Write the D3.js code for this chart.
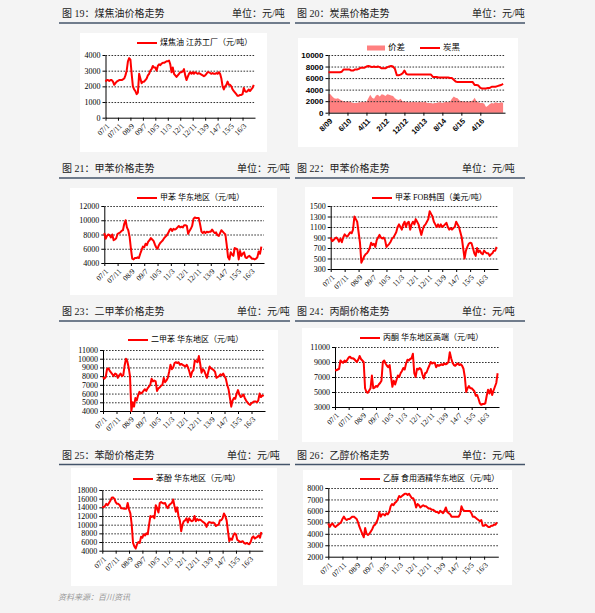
<!DOCTYPE html>
<html><head><meta charset="utf-8">
<script src="https://cdn.jsdelivr.net/npm/d3@7"></script>
<style>body{margin:0;background:#f4f4f4} svg{display:block}</style>
</head><body><svg id="c" width="595" height="613"></svg>
<script>
// ---------- tick labels ----------
const labels07 = ["07/1","07/11","08/9","09/7","10/5","11/3","12/1","12/11","13/9","14/7","15/5","16/3"];
const labels09 = ["8/09","6/10","4/11","2/12","12/12","10/13","8/14","6/15","4/16"];

// ---------- series (approx. monthly readings) ----------
const coalTar = [2300,2400,2400,2350,2400,2400,2300,2100,2200,2300,
 2350,2400,2400,2400,2450,2500,2700,3000,3600,3800,
 3700,2800,2000,1800,1700,1500,1600,2800,2500,2200,
 2300,2300,2400,2500,2700,2800,3000,3100,3300,3200,
 3200,3000,3300,3400,3350,3450,3500,3500,3550,3600,
 3600,3650,3400,2900,3200,2800,2700,2600,2700,2800,
 2900,2900,2950,3100,2700,2400,2600,2800,2900,2800,
 2900,2800,2900,2850,2800,2850,2800,2750,2700,2650,
 2700,2800,2900,2900,2850,2800,2850,2800,2800,2850,
 2800,2900,2800,2500,2000,1800,2000,2100,2300,2100,
 2100,2000,1800,1700,1600,1500,1400,1400,1450,1450,
 1500,1900,1700,1650,1700,1800,1700,1800,1900,2100];

const carbonBlack = [7000,7000,7000,7000,7000,7000,7000,7100,7500,7500,
 7500,7500,7300,7300,7500,7500,7600,7800,7800,7800,
 8000,8100,8000,7900,8000,7900,8000,7900,7700,7700,
 7700,7900,8000,8100,8000,7600,6500,6500,6600,6800,
 7300,6700,6600,6600,6600,6600,6600,6600,6600,6600,
 6600,6600,6600,6600,6600,6200,6200,6200,6100,6100,
 6100,6100,6100,6100,6000,6000,5700,5400,5300,5300,
 5300,5300,5300,5300,5300,5300,5300,4800,4800,4700,
 4300,4200,4200,4200,4300,4300,4500,4500,4500,4600,
 4700,4800,5000];

const carbonSpread = [3300,3200,2800,2500,2400,2500,2300,2100,2000,1900,
 2000,1900,1800,1700,1700,1700,1800,1800,1900,1800,
 1900,2500,3100,2600,2400,3000,3100,2800,3200,3100,
 2900,3200,3100,3000,2900,2500,2300,2200,2400,2000,
 1900,1900,1800,1900,1800,1900,1800,1800,1900,1800,
 1800,1900,1700,1700,1700,1600,1700,1700,1800,1800,
 1700,1800,1900,1800,1900,2400,2800,2600,2500,2100,
 2000,2000,1900,2000,1900,2000,2100,2600,2000,1800,
 1700,1700,1600,1000,1200,1500,1700,1600,1800,1700,
 1700,1800,1700];

const tolueneEast = [8200,7400,7800,8000,7900,7600,8000,7200,7300,7500,
 8100,8200,8300,8500,8600,9500,10000,9000,8600,7700,
 6000,4600,4500,4700,4700,4800,4700,5300,5800,6300,
 6200,6700,6500,7000,7200,7500,7300,7100,6600,6200,
 6000,6500,6800,7000,7200,7500,7700,7900,8200,8600,
 8800,8500,8800,8700,8800,9000,9200,9000,9100,9000,
 9300,9300,9200,8100,8500,8800,9200,10200,10400,10300,
 10300,10300,9400,8400,8200,8400,8200,8400,8300,8400,
 8400,8700,8400,8200,8300,7900,7800,8200,8600,8400,
 8200,8000,6500,4800,4500,5500,5200,5000,6100,6000,
 5900,4500,5700,5000,5300,5500,4800,4700,4900,5000,
 4800,4600,4600,4500,4600,4800,5600,5300,6300];

const tolueneFOB = [900,830,850,880,900,870,820,880,810,900,
 960,930,920,960,1000,980,1050,1300,1250,1200,
 1000,800,420,480,540,580,600,640,700,800,
 760,780,720,850,900,950,900,880,900,850,
 720,750,780,820,880,900,950,1000,1100,1150,
 1100,1050,1150,1200,1100,1180,1200,1050,1150,1200,
 1150,1250,1200,1150,1050,950,1050,1120,1150,1200,
 1250,1400,1350,1300,1200,1150,1100,1150,1100,1150,
 1100,1120,1150,1180,1100,1050,1080,1050,1080,1100,
 1200,1150,1100,1000,900,700,500,650,720,780,
 800,790,700,600,550,700,620,650,600,580,
 650,620,600,600,550,580,600,650,650,720];

const xyleneEast = [7900,7700,7900,8800,8900,8600,8400,8200,8000,8300,
 8200,7800,8100,8300,8000,8100,9200,10000,9700,9000,
 8000,4000,5000,4500,5500,5200,5800,6200,6000,6100,
 6300,6500,6300,6600,6800,7000,7700,7400,7500,7400,
 6300,6600,6700,6900,7000,7800,7300,7500,7800,8500,
 9300,8800,9000,9500,9600,9500,9600,9300,9400,9300,
 9200,9100,9300,9000,8500,7900,8500,8700,9800,9700,
 9600,10300,9400,8400,8800,8600,8200,7800,8500,9100,
 8900,8800,8700,8500,7800,7900,8000,8200,8100,8300,
 8000,7700,7000,6500,5500,4500,5200,5500,5400,6000,
 6400,5900,5600,5700,5900,5500,5200,5000,4800,4700,
 4900,5000,5100,5100,5000,5200,6000,5600,5800,5700];

const acetoneEast = [7900,7900,8000,8100,9200,9000,8900,9200,9000,9300,
 9600,9700,9500,9500,9400,9200,9000,9300,9800,9400,
 9200,9000,5500,5000,4900,5200,5500,7200,5500,5600,
 5800,5700,6000,6200,6500,9000,9200,8800,8500,8300,
 8600,7000,5700,6500,6000,6600,7200,7000,7500,7800,
 8200,8000,8800,9300,9200,9400,9500,10100,7500,7000,
 8100,8000,8200,8000,7300,6800,7500,7600,8100,8500,
 9000,8800,8900,8900,8300,8600,8500,8600,8700,8600,
 8800,8700,8800,9000,10300,9500,8900,8600,8500,8700,
 8800,8600,8700,8500,8100,7000,5000,5500,5800,5500,
 5500,5300,5100,4500,4600,4100,3500,3300,3400,3400,
 3500,4500,5300,4800,5400,4600,5200,5700,6200,7500];

const phenolEast = [14200,14000,14300,14800,14500,15000,15500,16200,16300,16000,
 15200,14800,14800,14500,13800,13800,13700,13700,13700,15000,
 13500,12600,10000,5800,5000,4500,5500,6000,5800,7200,
 7000,7800,7500,8000,7800,10000,12000,11800,12000,11500,
 14500,13800,12800,15000,15200,15000,14900,15000,14200,13800,
 14500,14800,15000,15800,14300,13000,14000,12000,11000,8500,
 10000,10800,11000,11500,10500,11500,11000,10800,11000,12000,
 10800,11300,11000,11200,11000,10700,10500,10200,9500,10300,
 10600,10500,10400,10500,10300,9700,9900,10000,11000,11000,
 11500,12600,12000,11000,8500,6200,6800,6500,7500,8000,
 7800,6500,6300,6000,6100,6200,5800,5600,5800,5600,
 5500,6000,7000,7300,6800,7000,7200,7500,7000,8300];

const ethanolEast = [4900,4600,4800,4900,4700,4600,4700,4800,4900,5000,
 5300,5500,5300,5200,5300,5300,5400,5500,5500,5400,
 5300,5000,4600,4300,4000,3700,4500,4000,3900,4000,
 4200,4400,4700,4800,5000,5300,5900,5500,5700,5700,
 5600,5800,5700,5900,6400,6600,6500,6700,6800,7000,
 7300,7200,7300,7400,7500,7500,7400,7500,7300,7100,
 7100,6800,6300,6600,6500,6300,6400,6500,6400,6400,
 6300,6200,6200,6100,6100,6000,5900,5900,5800,6000,
 5900,5800,6000,6300,5900,5800,5700,5500,5500,5500,
 5500,5500,5500,5700,6400,6100,6000,6000,6000,6000,
 6000,5800,5500,5500,5400,5300,5200,5100,5200,4700,
 4700,4800,4700,4600,4600,4700,4700,4800,4800,5000];

// ---------- y tick values ----------
const ticksA = [0,1000,2000,3000,4000];
const ticksB = [0,2000,4000,6000,8000,10000];
const ticksC = [4000,6000,8000,10000,12000];
const ticksD = [300,500,700,900,1100,1300,1500];
const ticksE = [4000,5000,6000,7000,8000,9000,10000,11000];
const ticksF = [3000,5000,7000,9000,11000];
const ticksG = [4000,6000,8000,10000,12000,14000,16000,18000];
const ticksH = [2000,3000,4000,5000,6000,7000,8000];

// ---------- texts ----------
const titles = ["图 19：煤焦油价格走势","图 20：炭黑价格走势","图 21：甲苯价格走势","图 22：甲苯价格走势",
                "图 23：二甲苯价格走势","图 24：丙酮价格走势","图 25：苯酚价格走势","图 26：乙醇价格走势"];
const unitText = "单位：元/吨";
const legends = ["煤焦油 江苏工厂（元/吨）","炭黑","甲苯 华东地区（元/吨）","甲苯 FOB韩国（美元/吨）",
                 "二甲苯 华东地区（元/吨）","丙酮 华东地区高端（元/吨）","苯酚 华东地区（元/吨）","乙醇 食用酒精华东地区（元/吨）"];
const spreadLegend = "价差";
const sourceText = "资料来源：百川资讯";

// ---------- layout ----------
const RED = "#ff0000";
const TXT = "'Liberation Serif','Noto Sans CJK SC',serif";
const svg = d3.select("#c");
svg.append("rect").attr("width",595).attr("height",613).attr("fill","#f4f4f4");

const headerRows = [{ty:15, ly:23}, {ty:170, ly:178}, {ty:313, ly:321}, {ty:457, ly:464.5}];
const unitX = [[232,472],[237,462],[237,462],[227,462]];
headerRows.forEach((r,ri)=>{
  [[59,290,62],[295,525,297]].forEach((c,ci)=>{
    svg.append("line").attr("x1",c[0]).attr("x2",c[1]).attr("y1",r.ly).attr("y2",r.ly)
      .attr("stroke","#44546a").attr("stroke-width",1.3);
    svg.append("text").attr("x",c[2]).attr("y",r.ty).attr("dominant-baseline","middle")
      .attr("font-family",TXT).attr("font-size",10).attr("fill","#222").text(titles[ri*2+ci]);
    svg.append("text").attr("x",unitX[ri][ci]).attr("y",r.ty).attr("dominant-baseline","middle")
      .attr("font-family",TXT).attr("font-size",10).attr("fill","#222").text(unitText);
  });
});

const panels = [
  {box:[80,33,187,119], left:105.5, right:255, top:55, bottom:117.7, yd:[0,4000], ticks:ticksA, data:coalTar, span:120, labels:labels07, leg:[137,43], legend:legends[0]},
  {box:[298,38,220,109], left:328.5, right:505, top:55, bottom:112.7, yd:[0,10000], ticks:ticksB, data:carbonBlack, area:carbonSpread, span:93, labels:labels09, leg:[420,48], legend:legends[1], bold:true},
  {box:[70,188,207,107], left:104.3, right:264, top:206, bottom:263, yd:[4000,12000], ticks:ticksC, data:tolueneEast, span:120, labels:labels07, leg:[137,198], legend:legends[2]},
  {box:[305,187,208,110], left:330.7, right:498, top:206, bottom:269, yd:[300,1500], ticks:ticksD, data:tolueneFOB, span:120, labels:labels07, leg:[372,198], legend:legends[3]},
  {box:[70,330,208,110], left:103, right:265, top:350, bottom:411, yd:[4000,11000], ticks:ticksE, data:xyleneEast, span:120, labels:labels07, leg:[128,340], legend:legends[4]},
  {box:[302,328,211,114], left:335, right:499, top:347, bottom:407, yd:[3000,11000], ticks:ticksF, data:acetoneEast, span:120, labels:labels07, leg:[360,338], legend:legends[5]},
  {box:[71,468,206,118], left:102.3, right:262.7, top:490, bottom:550.7, yd:[4000,18000], ticks:ticksG, data:phenolEast, span:120, labels:labels07, leg:[133,479], legend:legends[6]},
  {box:[303,470,209,115], left:328.3, right:498.3, top:488, bottom:556.7, yd:[2000,8000], ticks:ticksH, data:ethanolEast, span:120, labels:labels07, leg:[360,479], legend:legends[7]}
];

panels.forEach(p=>{
  const g = svg.append("g");
  g.append("rect").attr("x",p.box[0]).attr("y",p.box[1]).attr("width",p.box[2]).attr("height",p.box[3]).attr("fill","#fff");
  const x = d3.scaleLinear().domain([0,p.span]).range([p.left,p.right]);
  const y = d3.scaleLinear().domain(p.yd).range([p.bottom,p.top]);
  const numFont = p.bold ? "'Liberation Sans',Arial,sans-serif" : "'Liberation Serif','Times New Roman',serif";
  const weight = p.bold ? "bold" : "normal";

  if (p.area) {
    g.append("path").datum(p.area)
      .attr("d", d3.area().x((d,i)=>x(i)).y0(y(p.yd[0])).y1(d=>y(d)))
      .attr("fill","#ff8080");
  }
  // grid
  g.append("g").attr("transform",`translate(${p.left},0)`)
    .call(d3.axisLeft(y).tickValues(p.ticks.filter(t=>t!==p.yd[0])).tickSize(-(p.right-p.left)).tickFormat(""))
    .call(s=>{ s.select(".domain").remove();
      s.selectAll("line").attr("stroke","#333").attr("stroke-width",1).attr("stroke-dasharray","1.6,1.4"); });
  // y axis
  g.append("g").attr("transform",`translate(${p.left},0)`)
    .call(d3.axisLeft(y).tickValues(p.ticks).tickSize(3).tickSizeOuter(0).tickPadding(2).tickFormat(d3.format("d")))
    .call(s=>{ s.select(".domain").attr("stroke","#000");
      s.selectAll("line").attr("stroke","#000");
      s.selectAll("text").attr("font-family",numFont).attr("font-weight",weight).attr("font-size",8).attr("fill","#000"); });
  // x axis
  const tv = p.labels.map((l,i)=>i*10);
  g.append("g").attr("transform",`translate(0,${p.bottom})`)
    .call(d3.axisBottom(x).tickValues(tv).tickSize(3).tickSizeOuter(0).tickFormat((d,i)=>p.labels[i]))
    .call(s=>{ s.select(".domain").attr("stroke","#000");
      s.selectAll("line").attr("stroke","#000");
      s.selectAll("text").attr("font-family",numFont).attr("font-weight",weight).attr("font-size",7.5).attr("fill","#000")
        .attr("text-anchor","end").attr("x",0).attr("y",0).attr("dy","0.35em")
        .attr("transform","translate(2,7) rotate(-45)"); });
  // series line
  g.append("path").datum(p.data)
    .attr("d", d3.line().x((d,i)=>x(i)).y(d=>y(d)))
    .attr("fill","none").attr("stroke",RED).attr("stroke-width",2).attr("stroke-linejoin","round");
  // legend
  if (p.area) {
    g.append("rect").attr("x",367).attr("y",p.leg[1]-2.5).attr("width",18).attr("height",5).attr("fill","#ff8080");
    g.append("text").attr("x",388).attr("y",p.leg[1]).attr("dominant-baseline","middle")
      .attr("font-family",TXT).attr("font-size",8.5).attr("fill","#000").text(spreadLegend);
  }
  g.append("line").attr("x1",p.leg[0]).attr("x2",p.leg[0]+20).attr("y1",p.leg[1]).attr("y2",p.leg[1])
    .attr("stroke",RED).attr("stroke-width",2);
  g.append("text").attr("x",p.leg[0]+23).attr("y",p.leg[1]).attr("dominant-baseline","middle")
    .attr("font-family",TXT).attr("font-size",p.area?8.5:8).attr("fill","#000").text(p.legend);
});

svg.append("text").attr("x",58).attr("y",598).attr("dominant-baseline","middle")
  .attr("font-family",TXT).attr("font-style","italic").attr("font-size",8).attr("fill","#999").text(sourceText);
</script></body></html>
